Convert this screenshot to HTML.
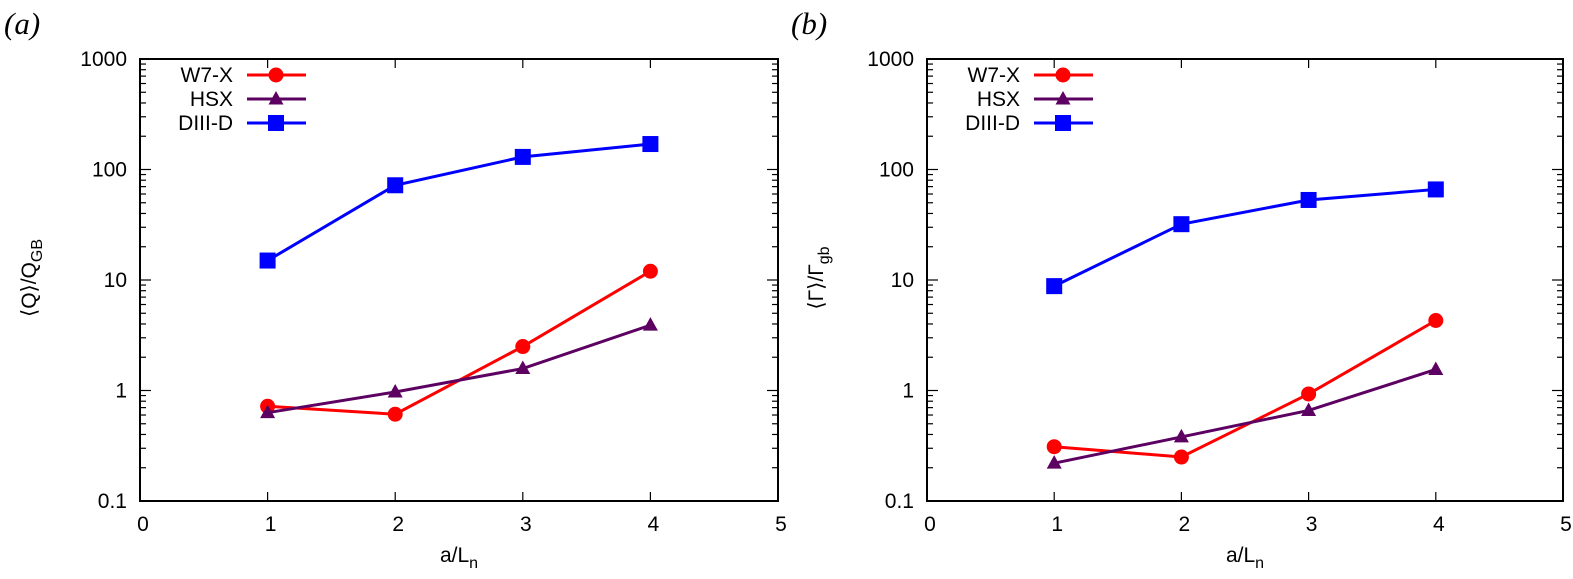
<!DOCTYPE html>
<html><head><meta charset="utf-8"><style>
body{margin:0;background:#fff}
svg text{font-family:"Liberation Sans",sans-serif;fill:#000}
</style></head><body>
<svg id="chart" width="1573" height="574" xmlns="http://www.w3.org/2000/svg"></svg>
<script>
const xTicks=[0,1,2,3,4,5];
const yTicks=[0.1,1,10,100,1000];
const yTickLabels=["0.1","1","10","100","1000"];
const xCats=[1,2,3,4];
const seriesNames=["W7-X","HSX","DIII-D"];
const seriesColors=["#ff0000","#5c0062","#0000ff"];
const aW7X=[0.72,0.61,2.5,12];
const aHSX=[0.63,0.97,1.58,3.9];
const aDIIID=[15,72,130,170];
const bW7X=[0.31,0.25,0.93,4.3];
const bHSX=[0.22,0.38,0.66,1.55];
const bDIIID=[8.8,32,53,66];
const NS="http://www.w3.org/2000/svg";
const svg=document.getElementById('chart');
function mk(t,a,p){const e=document.createElementNS(NS,t);for(const k in a)e.setAttribute(k,a[k]);(p||svg).appendChild(e);return e;}
function panel(id,L,R,label,ytitle,ysub,data){
 const T=59,B=501;
 const g=mk('g',{});
 
 
 const X=v=>L+(v-0)/5*(R-L);
 const Y=v=>B-(Math.log10(v)+1)/4*(B-T);
 for(let d=-1;d<3;d++)for(let m=2;m<10;m++){const y=Y(m*Math.pow(10,d));
  mk('line',{x1:L,x2:L+6,y1:y,y2:y,stroke:'#000','stroke-width':1.2},g);
  mk('line',{x1:R,x2:R-6,y1:y,y2:y,stroke:'#000','stroke-width':1.2},g);}
 yTicks.forEach((v,i)=>{const y=Y(v);
  mk('line',{x1:L,x2:L+11,y1:y,y2:y,stroke:'#000','stroke-width':1.2},g);
  mk('line',{x1:R,x2:R-11,y1:y,y2:y,stroke:'#000','stroke-width':1.2},g);
  const t=mk('text',{x:L-13,y:y+7,'text-anchor':'end','font-size':21},g);t.textContent=yTickLabels[i];
  
  });
 xTicks.forEach(v=>{const x=X(v);
  mk('line',{x1:x,x2:x,y1:B,y2:B-9,stroke:'#000','stroke-width':1.2},g);
  mk('line',{x1:x,x2:x,y1:T,y2:T+9,stroke:'#000','stroke-width':1.2},g);
  const t=mk('text',{x:x+3,y:B+30,'text-anchor':'middle','font-size':21},g);t.textContent=v;
  
  });
 const fr=mk('rect',{x:L,y:T,width:R-L,height:B-T,fill:'none',stroke:'#000','stroke-width':2},g);
 
 
 const xt=mk('text',{x:(L+R)/2,y:B+61,'text-anchor':'middle','font-size':21},g);
 xt.innerHTML='a/L<tspan font-size="16" dy="6">n</tspan>';
 
 
 const yt=mk('text',{transform:`translate(${L-104},${(T+B)/2-2}) rotate(-90)`,'text-anchor':'middle','font-size':21},g);
 yt.innerHTML=ytitle+'<tspan font-size="16" dy="6">'+ysub+'</tspan>';
 
 
 const pl=mk('text',{x:L-136,y:34,'font-size':31,'font-style':'italic',style:'font-family:"Liberation Serif",serif'},g);
 pl.textContent=label;
 
 
 data.forEach((vals,s)=>{const c=seriesColors[s];
  const pts=xCats.map((x,i)=>X(x)+','+Y(vals[i])).join(' ');
  const ln=mk('polyline',{points:pts,fill:'none',stroke:c,'stroke-width':3},g);
  
  
  xCats.forEach((x,i)=>{const m=marker(s,X(x),Y(vals[i]),g);
   
   });
  const ly=75+s*24, lx=L+107;
  const lt=mk('text',{x:lx-14,y:ly+7,'text-anchor':'end','font-size':21},g);lt.textContent=seriesNames[s];
  
  
  const ll=mk('line',{x1:lx,x2:lx+59,y1:ly,y2:ly,stroke:c,'stroke-width':3},g);
  
  
  const lm=marker(s,lx+29,ly,g);
  
  
 });
}
function marker(s,x,y,g){const c=seriesColors[s];
 if(s===0)return mk('circle',{cx:x,cy:y,r:7.5,fill:c},g);
 if(s===1)return mk('polygon',{points:`${x},${y-8} ${x+7.5},${y+5.5} ${x-7.5},${y+5.5}`,fill:c},g);
 return mk('rect',{x:x-8,y:y-8,width:16,height:16,fill:c},g);}
panel('a',140,778,'(a)','⟨Q⟩/Q','GB',[aW7X,aHSX,aDIIID]);
panel('b',927,1563,'(b)','⟨Γ⟩/Γ','gb',[bW7X,bHSX,bDIIID]);
</script>
</body></html>
